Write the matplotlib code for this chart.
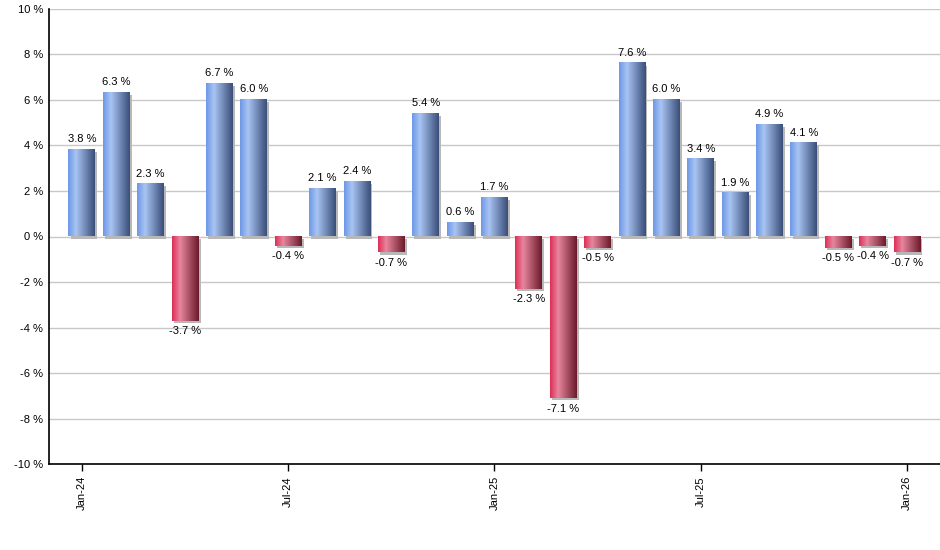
import matplotlib.pyplot as plt
import matplotlib.transforms as mtransforms
import numpy as np
from matplotlib.colors import LinearSegmentedColormap

plt.rcParams['font.family'] = ['Liberation Sans', 'DejaVu Sans']

# monthly returns, Jan-24 .. Jan-26
months = ['Jan-24', 'Feb-24', 'Mar-24', 'Apr-24', 'May-24', 'Jun-24', 'Jul-24',
          'Aug-24', 'Sep-24', 'Oct-24', 'Nov-24', 'Dec-24', 'Jan-25', 'Feb-25',
          'Mar-25', 'Apr-25', 'May-25', 'Jun-25', 'Jul-25', 'Aug-25', 'Sep-25',
          'Oct-25', 'Nov-25', 'Dec-25', 'Jan-26']
values = [3.8, 6.3, 2.3, -3.7, 6.7, 6.0, -0.4, 2.1, 2.4, -0.7, 5.4, 0.6, 1.7,
          -2.3, -7.1, -0.5, 7.6, 6.0, 3.4, 1.9, 4.9, 4.1, -0.5, -0.4, -0.7]
shown_ticks = ['Jan-24', 'Jul-24', 'Jan-25', 'Jul-25', 'Jan-26']

blue = LinearSegmentedColormap.from_list(
    'blue', [(0, '#6d98e6'), (0.3, '#a8c4f2'), (1, '#394d78')])
red = LinearSegmentedColormap.from_list(
    'red', [(0, '#dc2c55'), (0.3, '#e8869e'), (1, '#6a1a2a')])

fig = plt.figure(figsize=(9.4, 5.5), dpi=100)
ax = fig.add_axes([0.052, 0.156, 0.948, 0.828])

x = np.arange(len(values))
bars = ax.bar(x, values, width=0.78, color='none', zorder=3)

# shadows
shadow_tr = ax.transData + mtransforms.ScaledTranslation(1.5 / 72, -1.5 / 72, fig.dpi_scale_trans)
ax.bar(x, values, width=0.78, color='#b8b8b8', zorder=2, transform=shadow_tr)

grad = np.linspace(0, 1, 256).reshape(1, -1)
for b, v in zip(bars, values):
    x0 = b.get_x()
    w = b.get_width()
    cmap = blue if v >= 0 else red
    ax.imshow(grad, cmap=cmap, aspect='auto', extent=(x0, x0 + w, 0, v),
              origin='lower', zorder=3, interpolation='bilinear')
    if v >= 0:
        ax.annotate(f'{v:.1f} %', (x0 + w / 2, v), xytext=(0, 4),
                    textcoords='offset points', ha='center', va='bottom', fontsize=8)
    else:
        ax.annotate(f'{v:.1f} %', (x0 + w / 2, v), xytext=(0, -4),
                    textcoords='offset points', ha='center', va='top', fontsize=8)

ax.set_xlim(-0.96, len(values) - 0.04)
ax.set_ylim(-10, 10)
yt = np.arange(-10, 11, 2)
ax.set_yticks(yt)
ax.set_yticklabels([f'{t} %' for t in yt], fontsize=8)
tick_pos = [months.index(m) for m in shown_ticks]
ax.set_xticks(tick_pos)
ax.set_xticklabels(shown_ticks, rotation=90, fontsize=8)
ax.tick_params(axis='y', length=0, pad=4)
ax.tick_params(axis='x', length=5, width=1)
ax.grid(axis='y', color='#c8c8c8', linewidth=1, zorder=0)
ax.set_axisbelow(True)
for s in ['top', 'right']:
    ax.spines[s].set_visible(False)
for s in ['left', 'bottom']:
    ax.spines[s].set_linewidth(1.2)

fig.savefig('out.png', dpi=100)
